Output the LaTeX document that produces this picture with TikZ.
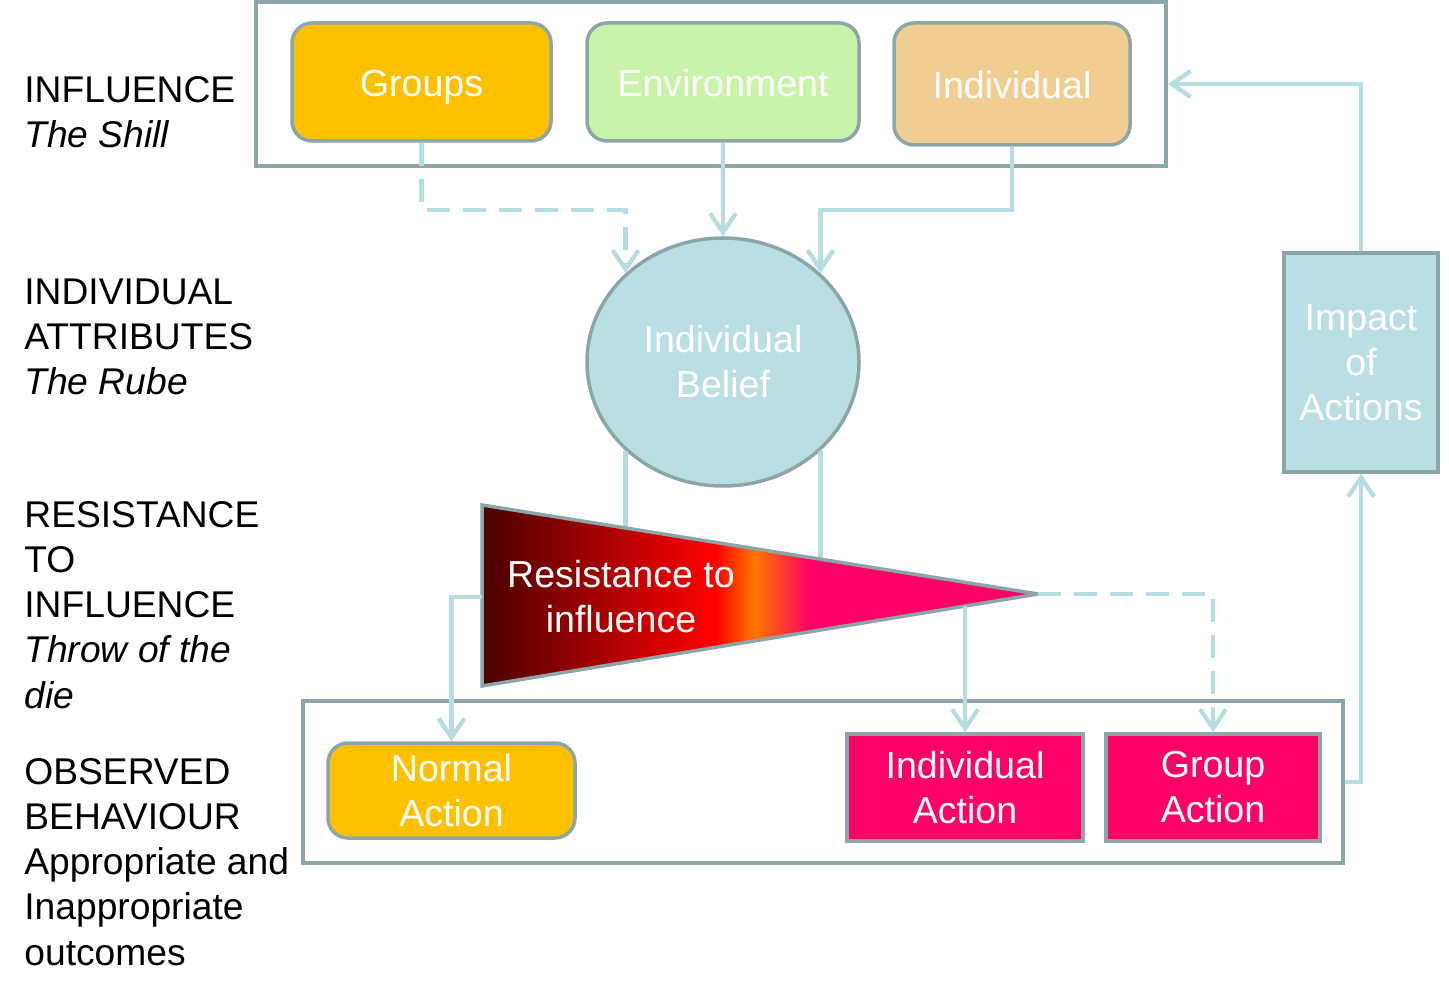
\documentclass[tikz,border=0pt]{standalone}
\usepackage{xcolor}
\usepackage{fontspec}
\setmainfont{Liberation Sans}
\usepackage{tikz}
\usetikzlibrary{arrows.meta}
\usetikzlibrary{shapes.geometric}
\definecolor{edge gray}{HTML}{8CA5A8}
\definecolor{link blue}{HTML}{B7DDE0}
\definecolor{groups yellow}{HTML}{FFC000}
\definecolor{env green}{HTML}{C9F3A9}
\definecolor{indiv tan}{HTML}{F0CD91}
\definecolor{belief blue}{HTML}{BADFE2}
\definecolor{action pink}{HTML}{FF0066}
\definecolor{res dark}{HTML}{4A0000}
\definecolor{res red}{HTML}{FF0000}
\definecolor{res orange}{HTML}{FF7800}
\pgfdeclarehorizontalshading{resistance}{100bp}{color(0bp)=(res dark); color(25bp)=(res dark); color(46bp)=(res red); color(49.5bp)=(res orange); color(54.5bp)=(action pink); color(100bp)=(action pink)}
\tikzset{
frame/.style = { rectangle, draw = edge gray, fill = white, line width = 1.75pt },
box/.style = { rectangle, draw = edge gray, line width = 1.75pt, text = white, align = center, font = \fontsize{18.8}{22.5}\selectfont },
soft box/.style = { box, rounded corners = 10pt },
top box/.style = { soft box, text height = 17pt, text depth = 2.5pt },
link/.style = { draw = link blue, line width = 2.2pt, -{Straight Barb[length = 9.5pt, width = 13pt]} },
dashed link/.style = { link, dash pattern = on 11.5pt off 6.5pt },
plain link/.style = { draw = link blue, line width = 2.2pt },
stage/.style = { anchor = base west, inner sep = 0pt, align = left, font = \fontsize{18.6}{22.6}\selectfont },
}
\begin{document}
\begin{tikzpicture}[x = 0.5pt, y = -0.5pt]
    \useasboundingbox (0, 0) rectangle (1449, 999);
    % stages (anchored on the last line)
    \node[stage] (influence) at (24, 148) {INFLUENCE\\\textit{The Shill}};
    \node[stage] (attributes) at (24, 395) {INDIVIDUAL\\ATTRIBUTES\\\textit{The Rube}};
    \node[stage] (resistance) at (24, 708) {RESISTANCE\\TO\\INFLUENCE\\\textit{Throw of the}\\\textit{die}};
    \node[stage] (behaviour) at (24, 965) {OBSERVED\\BEHAVIOUR\\Appropriate and\\Inappropriate\\outcomes};
    % frames
    \node[frame, minimum width = 455pt, minimum height = 82pt] (topframe) at (711, 84) {};
    \node[frame, minimum width = 520pt, minimum height = 81pt] (actframe) at (823, 782) {};
    % boxes
    \node[top box, fill = groups yellow, minimum width = 129.5pt, minimum height = 59pt] (groups) at (421.5, 82) {Groups};
    \node[top box, fill = env green, minimum width = 136pt, minimum height = 59pt] (environment) at (723, 82) {Environment};
    \node[top box, fill = indiv tan, minimum width = 118pt, minimum height = 61pt] (individual) at (1012, 84) {Individual};
    \node[box, ellipse, fill = belief blue, minimum width = 136pt, minimum height = 124pt] (belief) at (723, 362) {Individual\\Belief};
    \node[soft box, fill = groups yellow, minimum width = 123.5pt, minimum height = 47.5pt] (normal) at (451.5, 790.5) {Normal\\Action};
    \node[box, fill = action pink, minimum width = 118pt, minimum height = 53.5pt] (indaction) at (965, 787.5) {Individual\\Action};
    \node[box, fill = action pink, minimum width = 107pt, minimum height = 53.5pt] (grpaction) at (1213, 787.5) {Group\\Action};
    \node[box, fill = belief blue, minimum width = 77pt, minimum height = 109.5pt] (impact) at (1361, 362.5) {Impact\\of\\Actions};
    % triangle
    \coordinate (ttop) at (482, 505);
    \coordinate (tbot) at (482, 686);
    \coordinate (tip) at (1038, 594);
    \coordinate (tleft) at (482, 597);
    \coordinate (tout) at (965, 606);
    \draw[plain link] (belief.south west) -- (belief.south west |- tleft);
    \draw[plain link] (belief.south east) -- (belief.south east |- tleft);
    \path[shading = resistance, draw = edge gray, line width = 1.75pt] (ttop) -- (tip) -- (tbot) -- cycle;
    \node[box, draw = none, fill = none] (resist) at (621, 597) {Resistance to\\influence};
    % connectors
    \draw[dashed link] (groups.south) -- ++(0, 67) -| (belief.north west);
    \draw[link] (environment.south) -- (belief.north);
    \draw[link] (individual.south) -- ++(0, 63) -| (belief.north east);
    \draw[link] (tleft) -| (normal.north);
    \draw[link] (tout) -- (indaction.north);
    \draw[dashed link] (tip) -| (grpaction.north);
    \draw[link] (actframe.east) -| (impact.south);
    \draw[link] (impact.north) |- (topframe.east);
\end{tikzpicture}
\end{document}
